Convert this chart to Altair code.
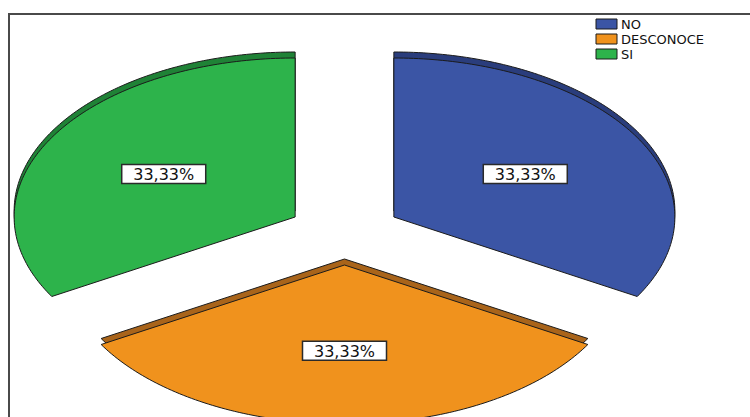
import altair as alt
import pandas as pd

# ---- data -------------------------------------------------------------
categories = ["NO", "DESCONOCE", "SI"]
percentages = [33.33, 33.33, 33.33]
colors = ["#3B55A5", "#F0921D", "#2DB34B"]
dark_colors = ["#2A3D7C", "#A9641A", "#1F8236"]

df = pd.DataFrame({
    "cat": categories,
    "value": percentages,
    "order": list(range(len(categories))),
    "color": colors,
    "dark": dark_colors,
})

# ---- layout constants (pixels) ---------------------------------------
W, H = 750, 417
CX, CY = 344.5, 233      # centre of the un-exploded pie
RX, RY = 281, 159        # ellipse radii of the tilted pie
EX, EY = 57, 32          # explode offset
DEPTH = 6                # visible thickness of the slices
N = 120                  # arc resolution
LF = 0.54                # label position (fraction of radius)

xs = alt.Scale(domain=[0, W], range=[0, W])
ys = alt.Scale(domain=[0, H], range=[0, H])

base = (
    alt.Chart(df)
    .transform_joinaggregate(total="sum(value)")
    .transform_window(cum="sum(value)", sort=[alt.SortField("order")], frame=[None, 0])
    .transform_calculate(a0="2*PI*(datum.cum - datum.value)/datum.total")
    .transform_calculate(a1="2*PI*datum.cum/datum.total")
    .transform_calculate(mid="(datum.a0 + datum.a1)/2")
    .transform_calculate(ax=f"{CX} + {EX}*sin(datum.mid)")
    .transform_calculate(ay=f"{CY} - {EY}*cos(datum.mid)")
)

poly = (
    base.transform_calculate(k=f"sequence(0, {N + 3})")
    .transform_flatten(["k"])
    .transform_calculate(t=f"datum.a0 + (datum.a1 - datum.a0) * clamp(datum.k - 1, 0, {N}) / {N}")
    .transform_calculate(onarc=f"(datum.k >= 1 && datum.k <= {N + 1}) ? 1 : 0")
    .transform_calculate(px=f"datum.ax + datum.onarc * {RX} * sin(datum.t)")
    .transform_calculate(py=f"datum.ay - datum.onarc * {RY} * cos(datum.t)")
    .transform_calculate(pyd=f"datum.py - {DEPTH}")
)

depth = poly.mark_line(filled=True, stroke="#1b1b1b", strokeWidth=1, strokeJoin="round").encode(
    x=alt.X("px:Q", scale=xs, axis=None),
    y=alt.Y("pyd:Q", scale=ys, axis=None),
    fill=alt.Fill("dark:N", scale=None, legend=None),
    detail="cat:N",
    order="k:Q",
)

top = poly.mark_line(filled=True, stroke="#1b1b1b", strokeWidth=1, strokeJoin="round").encode(
    x=alt.X("px:Q", scale=xs, axis=None),
    y=alt.Y("py:Q", scale=ys, axis=None),
    fill=alt.Fill("color:N", scale=None, legend=None),
    detail="cat:N",
    order="k:Q",
)

lab = (
    base.transform_calculate(lx=f"datum.ax + {LF}*{RX}*sin(datum.mid)")
    .transform_calculate(ly=f"datum.ay - {LF}*{RY}*cos(datum.mid)")
    .transform_calculate(label="replace(format(100*datum.value/datum.total, '.2f'), '.', ',') + '%'")
    .transform_calculate(bx0="datum.lx - 42", bx1="datum.lx + 42",
                         by0="datum.ly - 9.5", by1="datum.ly + 9.5")
)

boxes = lab.mark_rect(fill="white", stroke="#2a2a2a", strokeWidth=1.5).encode(
    x=alt.X("bx0:Q", scale=xs, axis=None),
    x2="bx1:Q",
    y=alt.Y("by0:Q", scale=ys, axis=None),
    y2="by1:Q",
)

texts = lab.mark_text(font="DejaVu Sans", fontSize=16, color="#111111",
                      align="center", baseline="middle", dy=1).encode(
    x=alt.X("lx:Q", scale=xs, axis=None),
    y=alt.Y("ly:Q", scale=ys, axis=None),
    text="label:N",
)

# ---- legend (top right) ----------------------------------------------
leg = (
    alt.Chart(df)
    .transform_calculate(sy0="19 + 15*datum.order", sy1="29 + 15*datum.order",
                         ty="24.5 + 15*datum.order", sx0="596", sx1="617", tx="621")
)
leg_sw = leg.mark_rect(stroke="#1b1b1b", strokeWidth=1).encode(
    x=alt.X("sx0:Q", scale=xs, axis=None),
    x2="sx1:Q",
    y=alt.Y("sy0:Q", scale=ys, axis=None),
    y2="sy1:Q",
    fill=alt.Fill("color:N", scale=None, legend=None),
)
leg_tx = leg.mark_text(font="DejaVu Sans", fontSize=13, color="#111111",
                       align="left", baseline="middle").encode(
    x=alt.X("tx:Q", scale=xs, axis=None),
    y=alt.Y("ty:Q", scale=ys, axis=None),
    text="cat:N",
)

frame = alt.Chart(pd.DataFrame({"f": [0]})).mark_rect(
    fill=None, stroke="#4a4a4a", strokeWidth=2
).encode(x=alt.value(9), x2=alt.value(800), y=alt.value(14), y2=alt.value(500))

chart = (
    alt.layer(frame, depth, top, boxes, texts, leg_sw, leg_tx)
    .properties(width=W, height=H, padding=0, autosize="none")
    .configure_view(stroke=None)
)

chart.save("out.html", embed_options={"renderer": "svg", "actions": False})
